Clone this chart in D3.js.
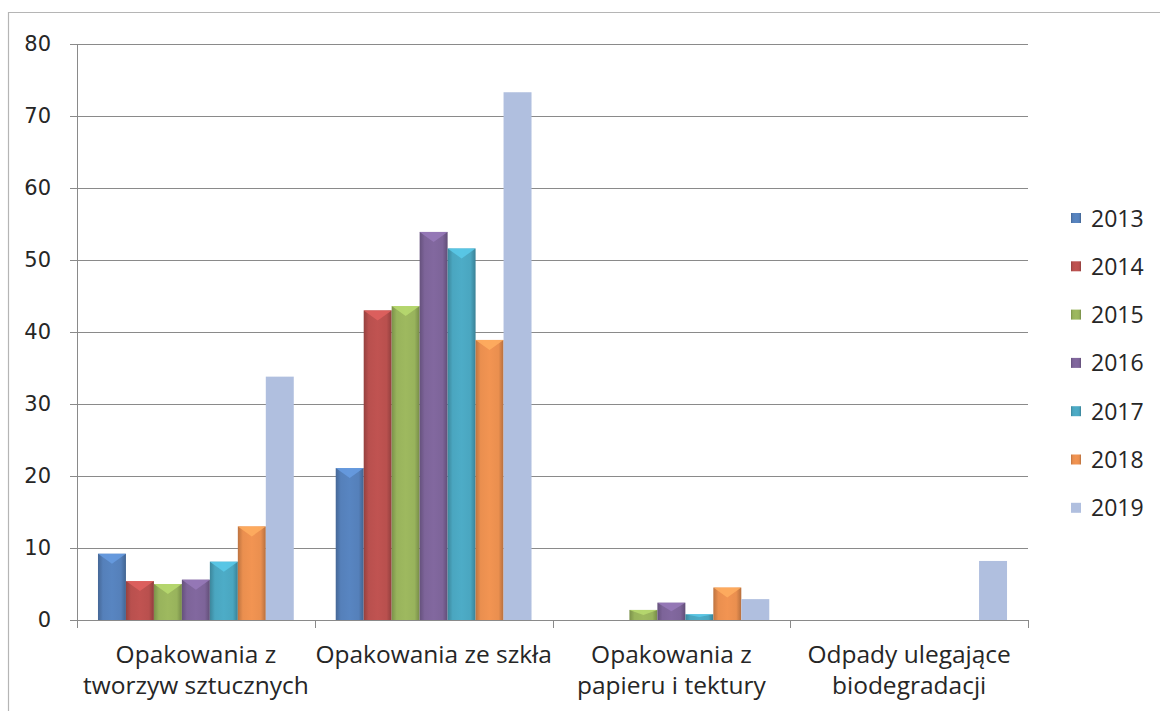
<!DOCTYPE html>
<html>
<head>
<meta charset="utf-8">
<script src="https://cdn.jsdelivr.net/npm/d3@7"></script>
<style>
  body { margin: 0; background: #fff; }
  svg { display: block; }
  text { font-family: "Open Sans", "Noto Sans", sans-serif; fill: #262626; }
</style>
</head>
<body>
<svg id="chart" width="1162" height="711"></svg>
<script>
// dane
const categories = [
  ["Opakowania z", "tworzyw sztucznych"],
  ["Opakowania ze szkła"],
  ["Opakowania z", "papieru i tektury"],
  ["Odpady ulegające", "biodegradacji"]
];
const years = ["2013", "2014", "2015", "2016", "2017", "2018", "2019"];
const v2013 = [9.2, 21.1, 0, 0];
const v2014 = [5.4, 43.0, 0, 0];
const v2015 = [5.0, 43.6, 1.4, 0];
const v2016 = [5.6, 53.9, 2.4, 0];
const v2017 = [8.1, 51.6, 0.8, 0];
const v2018 = [13.0, 38.9, 4.5, 0];
const v2019 = [33.8, 73.3, 2.9, 8.2];
const series = [v2013, v2014, v2015, v2016, v2017, v2018, v2019];
const yTicks = [0, 10, 20, 30, 40, 50, 60, 70, 80];
const colors = ["#5580ba", "#b9504e", "#98b35c", "#7d6499", "#4aa6c0", "#ea8f4f", "#b0bfdf"];

const svg = d3.select("#chart");
const mLeft = 77, mRight = 1028, mTop = 44, mBottom = 620;

// ramka
svg.append("path")
  .attr("d", "M8.5,711 L8.5,12.5 L1160,12.5")
  .attr("fill", "none").attr("stroke", "#b5b5b5").attr("stroke-width", 1.2);

const x0 = d3.scaleBand().domain(d3.range(categories.length)).range([mLeft, mRight]);
// gap width ~150%
const bw = x0.bandwidth() / 8.5;
const x1 = d3.scaleBand().domain(years)
  .range([(x0.bandwidth() - bw * 7) / 2, (x0.bandwidth() + bw * 7) / 2]).padding(0);
const y = d3.scaleLinear().domain([0, 80]).range([mBottom, mTop]);

// linie siatki
svg.append("g").selectAll("line").data(yTicks.filter(d => d > 0)).join("line")
  .attr("x1", mLeft).attr("x2", mRight)
  .attr("y1", d => Math.round(y(d)) + 0.5).attr("y2", d => Math.round(y(d)) + 0.5)
  .attr("stroke", "#8a8a8a").attr("stroke-width", 1);

// os Y
const yAxis = svg.append("g").attr("transform", `translate(${mLeft},0)`)
  .call(d3.axisLeft(y).tickValues(yTicks).tickSize(7).tickPadding(19));
yAxis.select(".domain").attr("stroke", "#8a8a8a");
yAxis.selectAll(".tick line").attr("stroke", "#8a8a8a");
yAxis.selectAll(".tick text").attr("fill", "#262626")
  .style("font-family", "'DejaVu Sans', sans-serif").attr("font-size", 21);

// gradienty (efekt skosu)
const defs = svg.append("defs");
colors.forEach((c, i) => {
  const g = defs.append("linearGradient").attr("id", "g" + i).attr("x1", "0").attr("x2", "1");
  const base = d3.color(c);
  if (i === 6) {
    g.append("stop").attr("offset", "0").attr("stop-color", base);
    g.append("stop").attr("offset", "1").attr("stop-color", base);
    return;
  }
  g.append("stop").attr("offset", "0").attr("stop-color", base.darker(0.6));
  g.append("stop").attr("offset", "0.18").attr("stop-color", base);
  g.append("stop").attr("offset", "0.5").attr("stop-color", base.brighter(0.1));
  g.append("stop").attr("offset", "0.82").attr("stop-color", base);
  g.append("stop").attr("offset", "1").attr("stop-color", base.darker(0.7));
});

// slupki
const groups = svg.append("g").selectAll("g").data(categories).join("g")
  .attr("transform", (d, i) => `translate(${x0(i)},0)`);

groups.each(function (cat, ci) {
  const g = d3.select(this);
  series.forEach((s, si) => {
    const v = s[ci];
    if (!v) return;
    const bx = x1(years[si]);
    const w = x1.bandwidth();
    const yt = y(v);
    g.append("rect")
      .attr("x", bx).attr("y", yt).attr("width", w).attr("height", mBottom - yt)
      .attr("fill", `url(#g${si})`);
    if (si < 6) {
      const h = Math.min(10, (mBottom - yt) / 2);
      const c = d3.color(colors[si]);
      g.append("path")
        .attr("d", `M${bx},${yt} L${bx + w},${yt} L${bx + w / 2},${yt + h} Z`)
        .attr("fill", c.brighter(0.55)).attr("opacity", 0.85);
    }
  });
});

// os X
const xAxis = svg.append("g").attr("transform", `translate(0,${mBottom})`);
xAxis.append("line").attr("x1", mLeft).attr("x2", mRight).attr("y1", 0.5).attr("y2", 0.5)
  .attr("stroke", "#8a8a8a");
const xt = d3.range(categories.length + 1).map(i => mLeft + i * x0.bandwidth());
xAxis.selectAll("line.tk").data(xt).join("line").attr("class", "tk")
  .attr("x1", d => Math.round(d) + 0.5).attr("x2", d => Math.round(d) + 0.5)
  .attr("y1", 0).attr("y2", 8).attr("stroke", "#8a8a8a");
xAxis.selectAll("text").data(categories).join("text")
  .attr("x", (d, i) => x0(i) + x0.bandwidth() / 2)
  .attr("text-anchor", "middle").attr("font-size", 24.5)
  .selectAll("tspan").data(d => d).join("tspan")
  .attr("x", function () { return d3.select(this.parentNode).attr("x"); })
  .attr("y", (d, i) => 43 + i * 31)
  .text(d => d);

// legenda
const leg = svg.append("g").selectAll("g").data(years).join("g")
  .attr("transform", (d, i) => `translate(1071,${218 + i * 48.3})`);
leg.append("rect").attr("x", 0).attr("y", -5).attr("width", 10).attr("height", 10)
  .attr("fill", (d, i) => `url(#g${i})`);
leg.append("text").attr("x", 20).attr("y", 8.5).attr("font-size", 23).text(d => d);
</script>
</body>
</html>
